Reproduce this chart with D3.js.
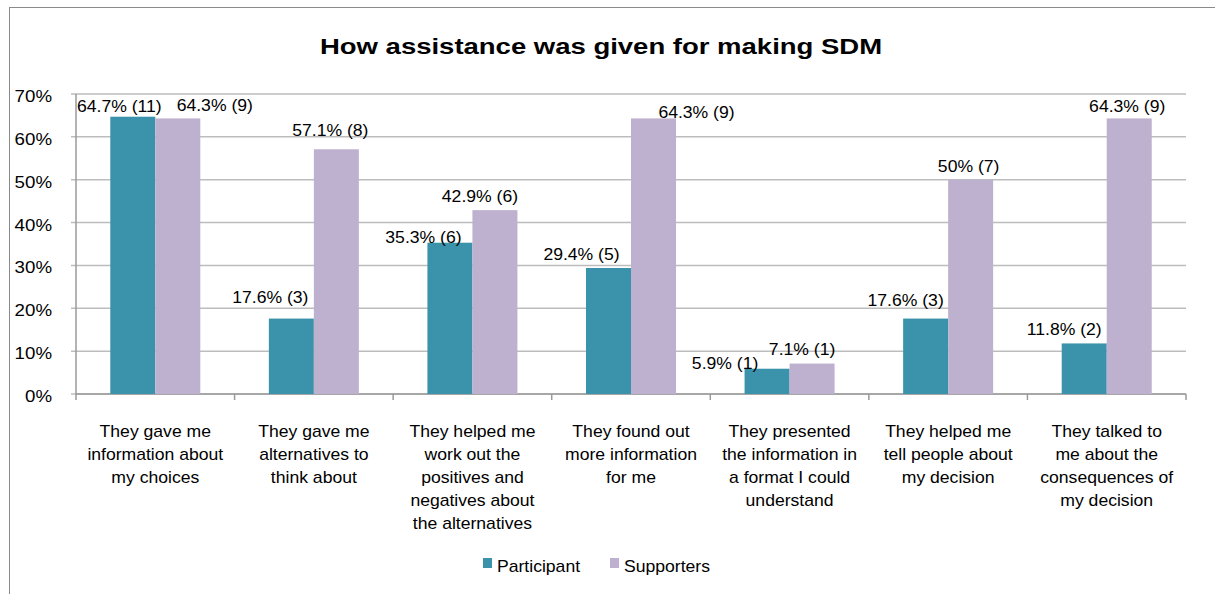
<!DOCTYPE html>
<html>
<head>
<meta charset="utf-8">
<script src="https://cdn.jsdelivr.net/npm/d3@7"></script>
<style>
  html, body { margin: 0; padding: 0; background: #fff; }
  text { font-family: Arial, "Liberation Sans", sans-serif; fill: #000; }
</style>
</head>
<body>
<svg id="chart" width="1215" height="594"></svg>
<script>
// ---- data ----
const categories = [
  ["They gave me", "information about", "my choices"],
  ["They gave me", "alternatives to", "think about"],
  ["They helped me", "work out the", "positives and", "negatives about", "the alternatives"],
  ["They found out", "more information", "for me"],
  ["They presented", "the information in", "a format I could", "understand"],
  ["They helped me", "tell people about", "my decision"],
  ["They talked to", "me about the", "consequences of", "my decision"]
];
const seriesNames = ["Participant", "Supporters"];
const participantPct = [64.7, 17.6, 35.3, 29.4, 5.9, 17.6, 11.8];
const participantN   = [11, 3, 6, 5, 1, 3, 2];
const supporterPct   = [64.3, 57.1, 42.9, 64.3, 7.1, 50, 64.3];
const supporterN     = [9, 8, 6, 9, 1, 7, 9];
const yTicks = [0, 10, 20, 30, 40, 50, 60, 70];
const chartTitle = "How assistance was given for making SDM";

// ---- layout (label nudges: dx from bar centre, dy of baseline from bar top) ----
const labelNudge = {
  Participant: [[-13.5,-5],[-21,-15.5],[-26.5,0],[-27,-8],[-42,0],[-20,-12.5],[-20,-8.5]],
  Supporters:  [[37,-7.5],[-6,-13],[-15,-8.5],[43,0],[-10,-8.5],[-2,-8],[-2,-6.5]]
};
const colors = { Participant: "#3A93AA", Supporters: "#BEB0CF" };
const SX = 1.1; // horizontal stretch of text as in the reference

const svg = d3.select("#chart");
const mLeft = 76, mRight = 1186, mTop = 94, mBottom = 394;

// frame
svg.append("rect").attr("x", 9.5).attr("y", 7.5).attr("width", 1220).attr("height", 620)
  .attr("fill", "none").attr("stroke", "#8a8a8a").attr("stroke-width", 1);

// title
svg.append("text")
  .attr("transform", `translate(601,54) scale(1.25,1)`)
  .attr("text-anchor", "middle")
  .style("font-size", "22px").style("font-weight", "bold")
  .text(chartTitle);

const x0 = d3.scaleBand().domain(d3.range(categories.length)).range([mLeft, mRight]).padding(0);
const groupW = 90;
const x1 = d3.scaleBand().domain(seriesNames).range([0, groupW]).padding(0);
const y = d3.scaleLinear().domain([0, 70]).range([mBottom, mTop]);

// gridlines + y ticks
const g = svg.append("g");
g.selectAll("line.grid").data(yTicks).join("line")
  .attr("x1", mLeft - 5).attr("x2", mRight)
  .attr("y1", d => y(d)).attr("y2", d => y(d))
  .attr("stroke", "#bdbdbd").attr("stroke-width", 1.5);

g.selectAll("text.ytick").data(yTicks).join("text")
  .attr("transform", d => `translate(52,${y(d) + 8}) scale(${SX},1)`)
  .attr("text-anchor", "end")
  .style("font-size", "17px")
  .text(d => d + "%");

// y axis line
svg.append("line").attr("x1", mLeft).attr("x2", mLeft).attr("y1", mTop).attr("y2", mBottom)
  .attr("stroke", "#9a9a9a").attr("stroke-width", 1.5);
// x axis line + ticks
svg.append("line").attr("x1", mLeft).attr("x2", mRight).attr("y1", mBottom).attr("y2", mBottom)
  .attr("stroke", "#9a9a9a").attr("stroke-width", 1.5);
const bounds = d3.range(categories.length + 1).map(i => i < categories.length ? x0(i) : mRight);
svg.selectAll("line.xtick").data(bounds).join("line")
  .attr("x1", d => d).attr("x2", d => d).attr("y1", mBottom).attr("y2", mBottom + 6)
  .attr("stroke", "#9a9a9a").attr("stroke-width", 1.5);

// bars
const rows = categories.map((c, i) => ({
  i,
  vals: [
    { s: "Participant", v: participantPct[i], n: participantN[i] },
    { s: "Supporters", v: supporterPct[i], n: supporterN[i] }
  ]
}));
const off = (x0.bandwidth() - groupW) / 2;
const groups = svg.selectAll("g.cat").data(rows).join("g")
  .attr("class", "cat")
  .attr("transform", d => `translate(${x0(d.i) + off},0)`);

groups.selectAll("rect").data(d => d.vals).join("rect")
  .attr("x", d => x1(d.s)).attr("width", x1.bandwidth())
  .attr("y", d => y(d.v)).attr("height", d => mBottom - y(d.v))
  .attr("fill", d => colors[d.s]);

// data labels
groups.each(function(row) {
  d3.select(this).selectAll("text.lbl").data(row.vals).join("text")
    .attr("class", "lbl")
    .attr("transform", d => {
      const nd = labelNudge[d.s][row.i];
      return `translate(${x1(d.s) + x1.bandwidth() / 2 + nd[0]},${y(d.v) + nd[1]}) scale(${SX},1)`;
    })
    .attr("text-anchor", "middle")
    .style("font-size", "16px")
    .text(d => `${d.v}% (${d.n})`);
});

// category labels
const cat = svg.selectAll("text.catlbl").data(categories).join("text")
  .attr("class", "catlbl")
  .attr("text-anchor", "middle")
  .attr("transform", (d, i) => `translate(${x0(i) + x0.bandwidth() / 2},437) scale(${SX},1)`)
  .style("font-size", "16px");
cat.selectAll("tspan").data(d => d).join("tspan")
  .attr("x", 0).attr("y", (d, j) => j * 23)
  .text(d => d);

// legend
const legend = svg.append("g");
const legX = [483, 610];
seriesNames.forEach((s, k) => {
  legend.append("rect").attr("x", legX[k]).attr("y", 558).attr("width", 9).attr("height", 10)
    .attr("fill", colors[s]);
  legend.append("text")
    .attr("transform", `translate(${legX[k] + 14},572) scale(${SX},1)`)
    .style("font-size", "16px")
    .text(s);
});
</script>
</body>
</html>
